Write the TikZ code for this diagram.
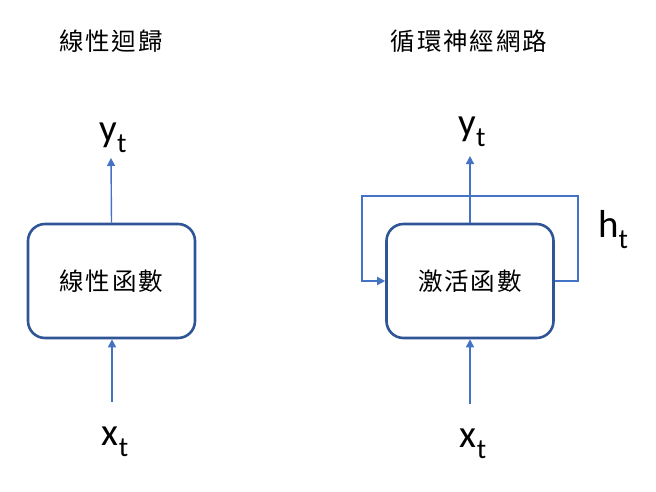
\documentclass[tikz,border=0pt]{standalone}
\usepackage{fontspec}
\setmainfont{Carlito}
\newfontfamily\cjk[LetterSpace=8]{Noto Sans CJK TC}
\usetikzlibrary{arrows.meta}
\definecolor{boxblue}{HTML}{2F5597}
\definecolor{arrblue}{HTML}{4472C4}
\newcommand{\lab}[2]{{\fontsize{39}{42}\selectfont #1}{\fontsize{28}{30}\selectfont\raisebox{-11pt}{#2}}}
\tikzset{
  box/.style={draw=boxblue, line width=2.6pt, rounded corners=17pt, fill=white,
    minimum width=167pt, minimum height=114pt, inner sep=0pt,
    font=\cjk\fontsize{24.5}{28}\selectfont},
  arr/.style={draw=arrblue, line width=1.4pt, -{Triangle[length=8pt,width=8pt]}},
  title/.style={font=\cjk\fontsize{24.5}{28}\selectfont, inner sep=0pt},
  var/.style={anchor=base, inner sep=0pt}
}
\begin{document}
\begin{tikzpicture}[x=1pt,y=-1pt]
\useasboundingbox (0,0) rectangle (656,491);
% titles
\node[title] (t1) at (111,41) {線性迴歸};
\node[title] (t2) at (469,41) {循環神經網路};
% boxes
\node[box] (lin) at (111.5,281) {線性函數};
\node[box] (rnn) at (470,281) {激活函數};
% labels
\node[var] (y1) at (113,141) {\lab{y}{t}};
\node[var] (x1) at (115,445) {\lab{x}{t}};
\node[var] (y2) at (472,135) {\lab{y}{t}};
\node[var] (x2) at (473,447) {\lab{x}{t}};
\node[var] (h) at (613,237) {\lab{h}{t}};
% arrow ends
\coordinate (o1) at (111,158);
\coordinate (i1) at (112,402);
\coordinate (o2) at (470,156);
\coordinate (i2) at (470,404);
\coordinate (fbR) at (578,196);
\coordinate (fbL) at (362,196);
% connectors
\draw[arr] (lin.north) -- (o1);
\draw[arr] (i1) -- (lin.south -| i1);
\draw[arr] (rnn.north) -- (o2);
\draw[arr] (i2) -- (rnn.south);
\draw[arr] (rnn.east) -| (fbR) -- (fbL) |- (rnn.west);
\end{tikzpicture}
\end{document}
